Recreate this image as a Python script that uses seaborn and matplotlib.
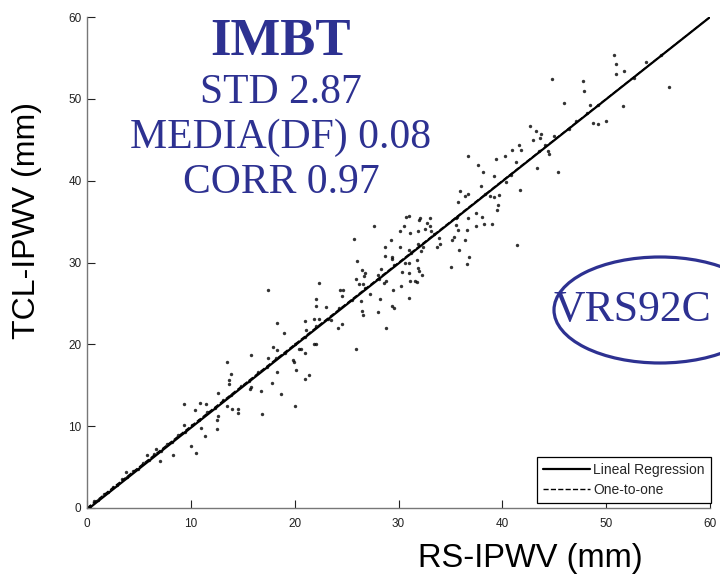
import numpy as np
import pandas as pd
import matplotlib
matplotlib.use("Agg")
import matplotlib.pyplot as plt
from matplotlib.patches import Ellipse
import seaborn as sns

# points (RS-IPWV vs TCL-IPWV, mm)
low_x = [13.85, 13.7, 13.7, 18.3, 17.8, 18.7, 15.8, 15.7, 16.8, 16.9, 12.6, 9.35, 10.9, 11.5, 10.4,
         13.5, 13.95, 14.5, 14.5, 12.6, 12.5, 12.5, 9.35, 11.0, 11.4, 10.0, 10.5, 8.3, 7.0, 6.6, 5.8, 3.8]
low_y = [16.4, 15.6, 15.1, 16.6, 15.3, 13.9, 14.8, 14.5, 14.3, 11.5, 14.0, 12.7, 12.8, 12.7, 12.0,
         12.5, 12.1, 12.1, 11.6, 11.2, 10.8, 9.7, 10.1, 9.8, 8.8, 7.6, 6.7, 6.5, 5.7, 7.2, 6.5, 4.4]

mid_x = [17.45, 22.3, 26.0, 28.7, 29.4, 29.4, 26.5, 26.8, 26.7, 25.9, 26.2, 26.6, 28.3, 28.0, 28.6,
         28.8, 29.5, 27.3, 28.2, 24.4, 24.7, 24.6, 26.4, 26.5, 26.6, 28.0, 29.4, 29.6, 28.8, 25.9,
         22.1, 22.1, 23.0, 21.9, 22.3, 21.0, 23.5, 24.2, 24.6, 21.1, 21.9, 22.1, 20.4, 20.6, 21.0,
         18.3, 19.0, 17.9, 18.3, 19.8, 19.9, 20.1, 21.4, 21.0, 15.8, 17.4, 13.5, 20.0]
mid_y = [26.7, 27.5, 30.2, 30.8, 30.7, 30.4, 29.1, 28.7, 28.3, 27.95, 27.4, 27.4, 29.2, 28.5, 27.5,
         27.7, 26.7, 26.1, 25.6, 26.7, 26.6, 25.9, 25.3, 24.1, 23.6, 24.0, 24.7, 24.5, 22.0, 19.4,
         25.6, 24.7, 24.6, 23.1, 23.1, 22.8, 23.0, 22.0, 22.5, 21.7, 20.1, 20.0, 19.4, 19.4, 18.9,
         22.6, 21.4, 19.7, 19.3, 18.1, 17.8, 16.9, 16.3, 15.8, 18.7, 18.3, 17.9, 12.5]

upper_x = [36.7, 40.3, 40.9, 41.8, 37.7, 38.1, 39.2, 39.4, 41.3, 40.4, 41.7, 37.9, 35.9, 36.7, 36.4,
           38.8, 39.2, 39.7, 35.7, 39.6, 39.5, 37.5, 38.05, 35.5, 36.7, 37.5, 38.2, 39.0, 35.5, 35.7,
           36.6, 35.3, 35.2, 36.4, 41.4, 35.8, 36.8, 36.6, 35.1, 30.7, 31.05, 31.95, 32.1, 32.7, 33.0,
           27.6, 30.1, 30.5, 31.1, 31.9, 32.6, 33.0, 33.1, 25.7, 29.3, 33.9, 33.7, 34.0, 28.7, 30.1,
           30.99, 31.9, 32.2, 32.4, 30.6, 31.05, 31.75, 31.85, 31.95, 30.3, 31.05, 32.3, 31.6, 30.2,
           31.1, 31.75, 31.05]
upper_y = [43.0, 43.0, 43.7, 43.7, 41.9, 41.1, 40.6, 42.7, 42.3, 39.8, 38.8, 39.4, 38.7, 38.4, 38.1,
           38.1, 38.0, 38.2, 37.4, 37.0, 36.4, 36.0, 35.6, 35.4, 35.4, 34.4, 34.7, 34.7, 34.6, 34.0,
           34.0, 33.1, 32.8, 32.7, 32.1, 31.5, 30.65, 29.8, 29.4, 35.6, 35.7, 35.2, 35.4, 34.8, 35.4,
           34.5, 33.9, 34.4, 33.6, 33.9, 34.1, 34.5, 33.8, 32.9, 32.8, 33.0, 31.9, 32.3, 31.95, 31.95,
           31.5, 32.3, 31.4, 31.95, 29.9, 29.9, 30.3, 29.3, 29.0, 28.8, 28.7, 28.5, 27.7, 27.1,
           27.8, 27.6, 25.7]

top_x = [50.8, 50.9, 50.98, 51.75, 53.8, 56.06, 51.6, 44.8, 47.8, 47.9, 45.9, 48.4, 48.2, 48.7, 49.2,
         50.0, 47.06, 42.7, 43.2, 43.7, 43.6, 43.0, 41.6, 45.0, 44.1, 44.4, 44.5, 43.3, 45.35]
top_y = [55.3, 54.2, 53.05, 53.4, 54.5, 51.4, 49.1, 52.4, 52.2, 50.9, 49.5, 49.3, 48.3, 47.0, 46.9,
         47.3, 47.3, 46.7, 46.1, 45.7, 45.2, 45.0, 44.4, 45.4, 44.3, 43.6, 43.3, 41.6, 41.1]

# points sitting right on the line
online_x = [0.3, 0.7, 1.1, 1.6, 2.0, 2.5, 2.9, 3.4, 3.9, 4.4, 4.9, 5.4, 6.0, 6.5, 7.1, 7.7, 8.2, 8.8,
            9.4, 10.1, 10.8, 11.6, 12.3, 13.1, 13.9, 14.8, 15.6, 16.5, 17.3, 18.2, 19.1, 20.0, 21.0,
            22.1, 23.2, 24.3, 25.5, 26.8, 28.1, 29.6, 31.2, 33.4, 35.6, 38.3, 40.8, 43.5, 46.4, 49.2,
            52.7, 55.3]
online_y = [0.2, 0.8, 1.0, 1.7, 1.9, 2.6, 2.8, 3.5, 3.8, 4.5, 4.8, 5.5, 5.9, 6.6, 7.0, 7.8, 8.1, 8.9,
            9.3, 10.2, 10.7, 11.7, 12.2, 13.2, 13.8, 14.9, 15.5, 16.6, 17.2, 18.3, 19.0, 20.1, 20.9,
            22.2, 23.1, 24.4, 25.4, 26.9, 28.0, 29.7, 31.1, 33.5, 35.5, 38.4, 40.7, 43.6, 46.3, 49.3,
            52.6, 55.4]

one_to_one = [0, 60]
ticks = [0, 10, 20, 30, 40, 50, 60]

df = pd.DataFrame({
    "rs": low_x + mid_x + upper_x + top_x + online_x,
    "tcl": low_y + mid_y + upper_y + top_y + online_y,
})

sns.set_style("ticks")
plt.rcParams["font.family"] = ["Liberation Sans", "DejaVu Sans"]

blue = "#2d3191"

fig = plt.figure(figsize=(7.2, 5.76), dpi=100)
ax = fig.add_axes([87 / 720, 1 - 508 / 576, 623 / 720, 491 / 576])
ax.set_xlim(0, 60)
ax.set_ylim(0, 60)

ax.plot(one_to_one, one_to_one, color="black", linestyle="--", linewidth=1.0, label="One-to-one", zorder=2)
sns.regplot(data=df, x="rs", y="tcl", ax=ax, ci=None, truncate=False,
            scatter_kws={"s": 6, "color": "black", "linewidths": 0, "zorder": 3},
            line_kws={"color": "black", "linewidth": 1.6, "label": "Lineal Regression", "zorder": 4})

ax.set_xticks(ticks)
ax.set_yticks(ticks)
ax.tick_params(direction="in", length=6, width=0.8, colors="#222222", labelsize=8.5)
ax.tick_params(axis="x", pad=7)
ax.tick_params(axis="y", pad=4)
for side in ["top", "right"]:
    ax.spines[side].set_visible(False)
for side in ["left", "bottom"]:
    ax.spines[side].set_color("#777777")
    ax.spines[side].set_linewidth(1.0)

ax.set_xlabel("RS-IPWV (mm)", fontsize=23.5, color="black")
ax.xaxis.set_label_coords(0.711, -0.072)
ax.set_ylabel("TCL-IPWV (mm)", fontsize=23, color="black")
ax.yaxis.set_label_coords(-0.072, 0.586)

handles, labels = ax.get_legend_handles_labels()
order = [labels.index("Lineal Regression"), labels.index("One-to-one")]
leg = ax.legend([handles[i] for i in order], [labels[i] for i in order],
                loc="lower right", bbox_to_anchor=(711 / 720, 1 - 503 / 576),
                bbox_transform=fig.transFigure, borderaxespad=0, fontsize=10,
                fancybox=False, framealpha=1, edgecolor="black", handlelength=3.4,
                handletextpad=0.2, borderpad=0.45, labelspacing=0.4)
leg.get_frame().set_linewidth(0.9)

# stats text
fig.text(281 / 720, 1 - 55 / 576, "IMBT", family="Liberation Serif", fontweight="bold",
         fontsize=38, color=blue, ha="center", va="baseline")
fig.text(281 / 720, 1 - 103 / 576, "STD 2.87", family="Liberation Serif",
         fontsize=30, color=blue, ha="center", va="baseline")
fig.text(281 / 720, 1 - 148 / 576, "MEDIA(DF) 0.08", family="Liberation Serif",
         fontsize=30, color=blue, ha="center", va="baseline")
fig.text(281 / 720, 1 - 193 / 576, "CORR 0.97", family="Liberation Serif",
         fontsize=30, color=blue, ha="center", va="baseline")

# station badge
fig.patches.append(Ellipse((660 / 720, 1 - 310 / 576), 212 / 720, 106 / 576,
                           transform=fig.transFigure, fill=False, edgecolor=blue, linewidth=2.3))
fig.text(553 / 720, 1 - 321 / 576, "VRS92C", family="Liberation Serif",
         fontsize=31.5, color=blue, ha="left", va="baseline")

plt.savefig("out.png", dpi=100)
